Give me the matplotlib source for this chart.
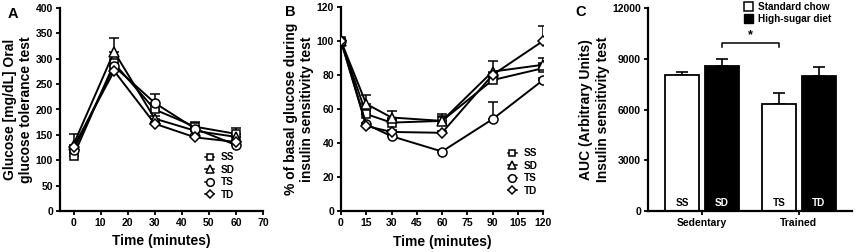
import matplotlib
matplotlib.use("Agg")
import matplotlib.pyplot as plt
from matplotlib.patches import Patch
import numpy as np

plt.rcParams['font.family'] = ['Liberation Sans', 'DejaVu Sans']
plt.rcParams['font.weight'] = 'bold'
plt.rcParams['axes.labelweight'] = 'bold'

# Panel A: oral glucose tolerance test
ogtt_time = [0, 15, 30, 45, 60]
ogtt_ss = [109, 291, 200, 166, 152]
ogtt_sd = [131, 314, 182, 158, 146]
ogtt_ts = [120, 285, 213, 162, 130]
ogtt_td = [126, 276, 172, 145, 136]
ogtt_ss_err = [5, 6, 6, 9, 11]
ogtt_sd_err = [21, 26, 5, 5, 5]
ogtt_ts_err = [5, 5, 17, 5, 5]
ogtt_td_err = [3, 3, 3, 3, 3]

# Panel B: insulin sensitivity test (% of basal)
itt_time = [0, 15, 30, 60, 90, 120]
itt_ss = [100, 57, 52, 53, 77, 84]
itt_sd = [100, 63, 55, 53, 82, 86]
itt_ts = [100, 51, 44, 35, 54, 77]
itt_td = [100, 50, 46.5, 46, 80, 100]
itt_ss_err = [0, 2, 2, 3, 3, 3]
itt_sd_err = [0, 5, 4, 4, 6, 4]
itt_ts_err = [0, 1, 1, 1, 10, 1]
itt_td_err = [0, 1, 1, 1, 1, 9]

group_names = ['SS', 'SD', 'TS', 'TD']

# Panel C: AUC
auc_labels = ['SS', 'SD', 'TS', 'TD']
auc_values = [8050, 8580, 6350, 7980]
auc_err = [150, 380, 620, 520]
auc_colors = ['white', 'black', 'white', 'black']
auc_pos = [0, 1.15, 2.81, 3.97]
group_ticks = [0.575, 3.39]
group_labels = ['Sedentary', 'Trained']

W, H = 856, 252
fig = plt.figure(figsize=(W / 100, H / 100), dpi=100)


def add_ax(left, right, top, bottom):
    return fig.add_axes([left / W, 1 - bottom / H, (right - left) / W, (bottom - top) / H])


def style(ax):
    for s in ['top', 'right']:
        ax.spines[s].set_visible(False)
    for s in ['left', 'bottom']:
        ax.spines[s].set_linewidth(1.6)
    ax.tick_params(width=1.3, length=3, labelsize=7.5, pad=2)
    for lab in ax.get_xticklabels() + ax.get_yticklabels():
        lab.set_fontweight('bold')


markers = ['s', '^', 'o', 'D']
msizes = [6, 6.5, 6.5, 5]


def line_panel(ax, t, series, errs):
    handles = []
    for ys, es, m, ms, name in zip(series, errs, markers, msizes, group_names):
        ax.errorbar(t, ys, yerr=[np.zeros(len(es)), es], fmt='none', ecolor='black',
                    elinewidth=1.1, capsize=3.5, capthick=1.1, zorder=2)
        ax.plot(t, ys, color='black', lw=1.4, marker=m, ms=ms, mfc='white',
                mec='black', mew=1.1, zorder=3)
        h, = ax.plot([], [], color='black', lw=1.1, marker=m, ms=ms - 1, mfc='white',
                     mec='black', mew=1.1, label=name)
        handles.append(h)
    return handles


leg_kw = dict(frameon=False, fontsize=7.2, handlelength=0.9, handletextpad=0.7,
              labelspacing=0.25, borderpad=0.2)

# ---- A ----
axA = add_ax(60, 263, 8, 211)
hA = line_panel(axA, ogtt_time, [ogtt_ss, ogtt_sd, ogtt_ts, ogtt_td],
                [ogtt_ss_err, ogtt_sd_err, ogtt_ts_err, ogtt_td_err])
axA.set_xlim(-5, 70)
axA.set_ylim(0, 400)
axA.set_xticks(range(0, 71, 10))
axA.set_yticks(range(0, 401, 50))
style(axA)
axA.set_xlabel('Time (minutes)', fontsize=10, labelpad=4)
axA.set_ylabel('Glucose [mg/dL] Oral\nglucose tolerance test', fontsize=10, labelpad=2)
axA.legend(handles=hA, loc='lower left', bbox_to_anchor=(0.68, 0.02), **leg_kw)
fig.text(8 / W, 1 - 14 / H, 'A', fontsize=10.5, fontweight='bold', va='center')

# ---- B ----
axB = add_ax(341, 543, 7, 211)
hB = line_panel(axB, itt_time, [itt_ss, itt_sd, itt_ts, itt_td],
                [itt_ss_err, itt_sd_err, itt_ts_err, itt_td_err])
axB.set_xlim(0, 120)
axB.set_ylim(0, 120)
axB.set_xticks(range(0, 121, 15))
axB.set_yticks(range(0, 121, 20))
style(axB)
axB.set_xlabel('Time (minutes)', fontsize=10, labelpad=5)
axB.set_ylabel('% of basal glucose during\ninsulin sensitivity test', fontsize=10, labelpad=2)
axB.legend(handles=hB, loc='lower left', bbox_to_anchor=(0.79, 0.04), **leg_kw)
fig.text(285 / W, 1 - 12 / H, 'B', fontsize=10.5, fontweight='bold', va='center')

# ---- C ----
axC = add_ax(648, 852, 8, 211)
axC.bar(auc_pos, auc_values, width=1.0, color=auc_colors, edgecolor='black',
        linewidth=1.3, zorder=2)
axC.errorbar(auc_pos, auc_values, yerr=[np.zeros(4), auc_err], fmt='none',
             ecolor='black', elinewidth=1.2, capsize=4, capthick=1.2, zorder=1)
for x, lab, c in zip(auc_pos, auc_labels, auc_colors):
    axC.text(x, 150, lab, ha='center', va='bottom', fontsize=7.2, fontweight='bold',
             color='white' if c == 'black' else 'black', zorder=3)
axC.set_xlim(-0.99, 4.93)
axC.set_ylim(0, 12000)
axC.set_yticks([0, 3000, 6000, 9000, 12000])
axC.set_xticks(group_ticks)
axC.set_xticklabels(group_labels)
style(axC)
axC.set_ylabel('AUC (Arbitrary Units)\nInsulin sensitivity test', fontsize=10, labelpad=2)
# significance bracket SD vs TS
yb = 9950
axC.plot([auc_pos[1], auc_pos[1], auc_pos[2], auc_pos[2]], [yb - 250, yb, yb, yb - 250],
         color='black', lw=1.1)
axC.text((auc_pos[1] + auc_pos[2]) / 2, yb + 100, '*', ha='center', va='bottom',
         fontsize=9, fontweight='bold')
axC.legend(handles=[Patch(facecolor='white', edgecolor='black', lw=1.1, label='Standard chow'),
                    Patch(facecolor='black', edgecolor='black', label='High-sugar diet')],
           loc='upper left', bbox_to_anchor=(0.44, 1.06), frameon=False, fontsize=7.2,
           handlelength=0.9, handleheight=0.9, handletextpad=0.5, labelspacing=0.2,
           borderpad=0.1)
fig.text(575 / W, 1 - 12 / H, 'C', fontsize=10.5, fontweight='bold', va='center')

fig.savefig('out.png', dpi=100)
